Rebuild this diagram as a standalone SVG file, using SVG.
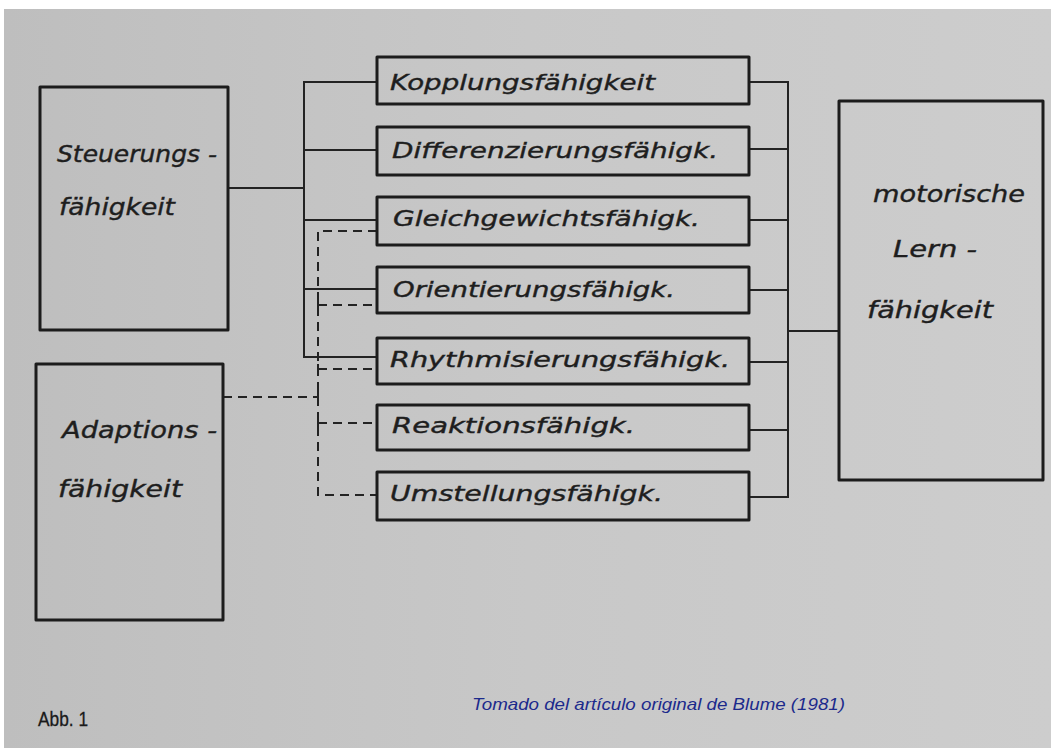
<svg xmlns="http://www.w3.org/2000/svg" width="1051" height="748" viewBox="0 0 1051 748">
<defs>
<linearGradient id="paper" x1="0" y1="0" x2="1" y2="0">
<stop offset="0" stop-color="#bebebe"/>
<stop offset="0.5" stop-color="#c8c8c8"/>
<stop offset="1" stop-color="#cdcdcd"/>
</linearGradient>
<style>
.box{fill:none;stroke:#1c1c1c;stroke-width:3;stroke-linejoin:round}
.lbl{font-family:"DejaVu Sans","Liberation Sans",sans-serif;font-style:italic;font-size:22px;fill:#1e1e1e;stroke:#1e1e1e;stroke-width:0.4}
.big{font-family:"DejaVu Sans","Liberation Sans",sans-serif;font-style:italic;font-size:23px;fill:#1e1e1e;stroke:#1e1e1e;stroke-width:0.4}
.sol{fill:none;stroke:#232323;stroke-width:2}
.dash{fill:none;stroke:#232323;stroke-width:2;stroke-dasharray:9 6}
.tick{fill:none;stroke:#232323;stroke-width:2}
</style>
</defs>
<rect x="0" y="0" width="1051" height="748" fill="#ffffff"/>
<rect x="4" y="9" width="1047" height="739" fill="url(#paper)"/>

<g id="connectors">
<path class="sol" d="M228 188 H304"/>
<path class="sol" d="M377 82 H304 V357 H377"/>
<path class="sol" d="M304 150 H377 M304 220 H377 M304 289 H377"/>
<path class="sol" d="M749 82 H788 V497 H749"/>
<path class="sol" d="M749 149 H788 M749 220 H788 M749 290 H788 M749 362 H788 M749 430 H788"/>
<path class="sol" d="M788 331 H839"/>
<path class="dash" d="M223 397 H318"/>
<path class="dash" d="M377 231 H318 V495 H377"/>
<path class="dash" d="M318 305 H377 M318 369 H377 M318 423 H377"/>
<path class="tick" d="M318 300 V310 M318 364 V374 M318 418 V428 M318 391 V402"/>
</g>

<g id="steuerungsfaehigkeit">
<rect class="box" x="40" y="87" width="188" height="243"/>
<text class="big" x="57" y="162" textLength="160" lengthAdjust="spacingAndGlyphs">Steuerungs -</text>
<text class="big" x="59" y="215" textLength="116" lengthAdjust="spacingAndGlyphs">fähigkeit</text>
</g>

<g id="adaptionsfaehigkeit">
<rect class="box" x="36" y="364" width="187" height="256"/>
<text class="big" x="62" y="438" textLength="155" lengthAdjust="spacingAndGlyphs">Adaptions -</text>
<text class="big" x="58" y="497" textLength="124" lengthAdjust="spacingAndGlyphs">fähigkeit</text>
</g>

<g id="kopplungsfaehigkeit">
<rect class="box" x="377" y="57" width="372" height="47"/>
<text class="lbl" x="390" y="90" textLength="265" lengthAdjust="spacingAndGlyphs">Kopplungsfähigkeit</text>
</g>
<g id="differenzierungsfaehigkeit">
<rect class="box" x="377" y="127" width="372" height="48"/>
<text class="lbl" x="392" y="158" textLength="326" lengthAdjust="spacingAndGlyphs">Differenzierungsfähigk.</text>
</g>
<g id="gleichgewichtsfaehigkeit">
<rect class="box" x="377" y="197" width="372" height="48"/>
<text class="lbl" x="393" y="226" textLength="307" lengthAdjust="spacingAndGlyphs">Gleichgewichtsfähigk.</text>
</g>
<g id="orientierungsfaehigkeit">
<rect class="box" x="377" y="267" width="372" height="46"/>
<text class="lbl" x="393" y="297" textLength="282" lengthAdjust="spacingAndGlyphs">Orientierungsfähigk.</text>
</g>
<g id="rhythmisierungsfaehigkeit">
<rect class="box" x="377" y="338" width="372" height="46"/>
<text class="lbl" x="390" y="367" textLength="340" lengthAdjust="spacingAndGlyphs">Rhythmisierungsfähigk.</text>
</g>
<g id="reaktionsfaehigkeit">
<rect class="box" x="377" y="405" width="372" height="45"/>
<text class="lbl" x="392" y="433" textLength="243" lengthAdjust="spacingAndGlyphs">Reaktionsfähigk.</text>
</g>
<g id="umstellungsfaehigkeit">
<rect class="box" x="377" y="472" width="372" height="48"/>
<text class="lbl" x="390" y="501" textLength="273" lengthAdjust="spacingAndGlyphs">Umstellungsfähigk.</text>
</g>

<g id="motorische-lernfaehigkeit">
<rect class="box" x="839" y="101" width="204" height="379"/>
<text class="big" x="873" y="202" textLength="152" lengthAdjust="spacingAndGlyphs">motorische</text>
<text class="big" x="893" y="257" textLength="84" lengthAdjust="spacingAndGlyphs">Lern -</text>
<text class="big" x="867" y="318" textLength="126" lengthAdjust="spacingAndGlyphs">fähigkeit</text>
</g>

<text x="38" y="726" font-family="Liberation Sans, Arial, sans-serif" font-size="20" fill="#1a1a1a" stroke="#1a1a1a" stroke-width="0.3" textLength="50" lengthAdjust="spacingAndGlyphs">Abb. 1</text>
<text x="472" y="710" font-family="Liberation Sans, Arial, sans-serif" font-style="italic" font-size="17" fill="#1c2a8c" textLength="373" lengthAdjust="spacingAndGlyphs">Tomado del artículo original de Blume (1981)</text>
</svg>
